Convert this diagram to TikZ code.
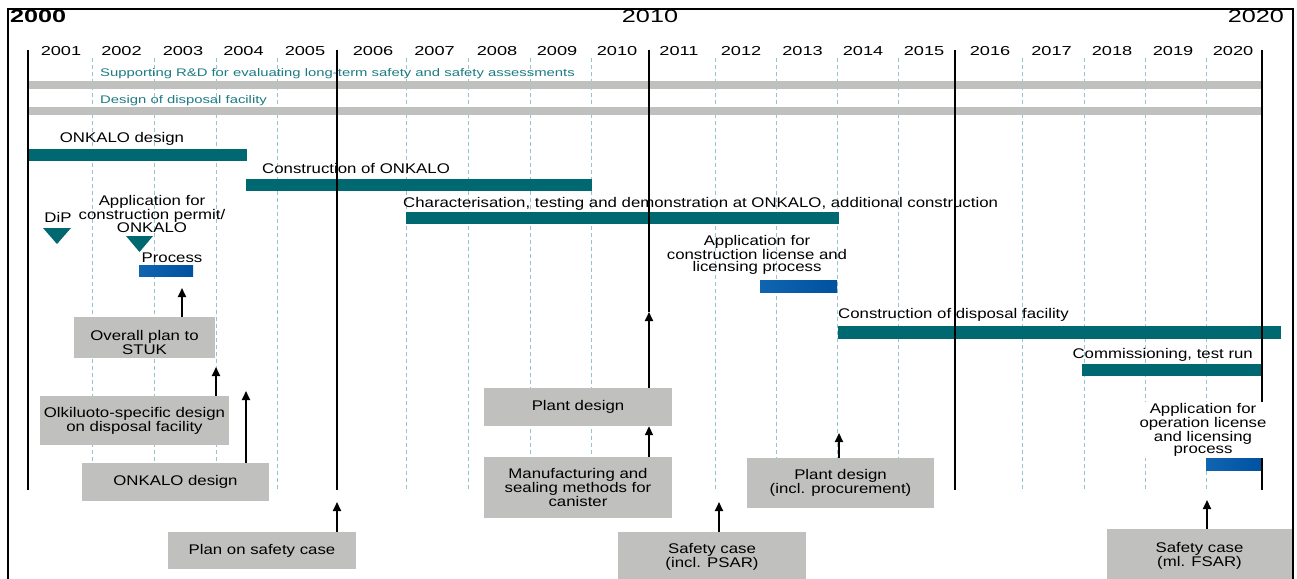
\documentclass[tikz,border=0pt]{standalone}
\usepackage{fontspec}
\setmainfont{Liberation Sans}
\newfontfamily\txtfont{Liberation Sans}[FakeStretch=1.2]
\newfontfamily\lblfont{Liberation Sans}[FakeStretch=1.35]
\newfontfamily\numfont{Liberation Sans}[FakeStretch=1.4]
\usetikzlibrary{arrows.meta}
\definecolor{barteal}{RGB}{0,104,112}
\definecolor{txteal}{RGB}{28,124,130}
\definecolor{boxgray}{RGB}{192,193,191}
\definecolor{dashblue}{RGB}{150,196,206}
\definecolor{blueL}{RGB}{16,100,176}
\definecolor{blueD}{RGB}{0,82,160}
\begin{document}
\begin{tikzpicture}[x=1pt,y=-1pt,
  txt/.style={inner sep=0pt, font=\txtfont\fontsize{14}{12.3}\selectfont, align=center},
  oneline/.style={text height=10pt, text depth=0pt},
  yearlbl/.style={inner sep=0pt, text height=9.5pt, text depth=0pt, font=\numfont\fontsize{13}{13}\selectfont},
  biglbl/.style={inner sep=0pt, text height=13pt, text depth=0pt, font=\numfont\fontsize{18}{18}\selectfont},
  teallbl/.style={inner sep=0pt, anchor=west, text=txteal, text height=8pt, text depth=0pt, font=\lblfont\fontsize{11}{11}\selectfont},
  graybar/.style={fill=boxgray, draw=none, inner sep=0pt, anchor=north west},
  tealbar/.style={fill=barteal, draw=none, inner sep=0pt, anchor=north west},
  bluebar/.style={left color=blueL, right color=blueD, draw=none, inner sep=0pt, anchor=north west},
  graybox/.style={fill=boxgray, draw=none, inner sep=0pt, align=center, font=\txtfont\fontsize{14}{12.3}\selectfont},
  arr/.style={line width=1.8pt, -{Triangle[width=8pt,length=9pt]}},
  yearline/.style={line width=1.8pt, black},
  gridline/.style={dashblue, line width=0.9pt, dash pattern=on 4pt off 3pt},
  frameline/.style={line width=2pt, black}
]
\useasboundingbox (0,0) rectangle (1297,578);
\fill[white] (0,0) rectangle (1297,578);

% frame (bottom edge outside the picture)
\draw[frameline] (8,600) -- (8,9) -- (1293,9) -- (1293,600);

% decade labels
\node[biglbl, anchor=west, font=\numfont\fontsize{18}{18}\selectfont\bfseries] (d2000) at (10,16.5) {2000};
\node[biglbl] (d2010) at (650,16.5) {2010};
\node[biglbl, anchor=east] (d2020) at (1284,16.5) {2020};

% year labels
\foreach \yr/\xx in {2001/61,2002/121.5,2003/183,2004/243.5,2005/305,2006/373,2007/434.5,2008/497,2009/557,2010/617,2011/679,2012/741,2013/802.5,2014/863,2015/924,2016/990,2017/1051.5,2018/1112,2019/1173,2020/1233}
  \node[yearlbl] (y\yr) at (\xx,51) {\yr};

% dashed year grid
\foreach \xx in {92,154,216,277,406,468,530,591,715,776,837,898,1022,1084,1145,1206}
  \draw[gridline] (\xx,58) -- (\xx,492);

% gray bars
\node[graybar, minimum width=1234pt, minimum height=8pt] (rdbar) at (28,81) {};
\node[graybar, minimum width=1234pt, minimum height=8pt] (dfbar) at (28,107) {};
\node[teallbl] (rdlbl) at (100,72) {Supporting R\&D for evaluating long-term safety and safety assessments};
\node[teallbl] (dflbl) at (100,99) {Design of disposal facility};

% teal bars
\node[tealbar, minimum width=219pt, minimum height=12pt] (onkbar) at (28,149) {};
\node[tealbar, minimum width=346pt, minimum height=12pt] (conkbar) at (246,179) {};
\node[tealbar, minimum width=433pt, minimum height=12pt] (charbar) at (406,212) {};
\node[tealbar, minimum width=443pt, minimum height=13pt] (cdfbar) at (838,326) {};
\node[tealbar, minimum width=180pt, minimum height=12pt] (combar) at (1082,364) {};

% blue bars
\node[bluebar, minimum width=54pt, minimum height=11pt] (procbar) at (139,265) {};
\node[bluebar, minimum width=77pt, minimum height=12pt] (clbar) at (760,280) {};
\node[bluebar, minimum width=56pt, minimum height=12pt] (olbar) at (1206,458) {};

% solid five-year lines
\foreach \xx in {28,337,955,1262}
  \draw[yearline] (\xx,50) -- (\xx,490);
\coordinate (tipE) at (649,312);
\draw[yearline] (649,50) -- (tipE);

% bar labels
\node[txt, oneline] (onklbl) at (122,137) {ONKALO design};
\node[txt, oneline, anchor=west] (conklbl) at (262,168) {Construction of ONKALO};
\node[txt, oneline, anchor=west] (charlbl) at (403,202) {Characterisation, testing and demonstration at ONKALO, additional construction};
\node[txt, oneline, anchor=west] (cdflbl) at (838,313) {Construction of disposal facility};
\node[txt, oneline, anchor=east] (comlbl) at (1253,353) {Commissioning, test run};

% milestones
\node[txt, oneline] (diplbl) at (58,217) {DiP};
\fill[barteal] (43,228) -- (71,228) -- (57,244) -- cycle;
\node[txt] (cplbl) at (152,214) {Application for\\construction permit/\\ONKALO};
\fill[barteal] (126,236) -- (153,236) -- (139.5,252) -- cycle;
\node[txt, oneline] (proclbl) at (172,257) {Process};
\node[txt] (cllbl) at (757,255) {Application for\\construction license and\\licensing process};
\node[txt, fill=white, inner sep=1pt] (ollbl) at (1203,430) {Application for\\operation license\\and licensing\\process};

% gray boxes
\node[graybox, minimum width=141pt, minimum height=41pt] (ovr) at (144.5,337.5) {\rule{0pt}{20pt}Overall plan to\\STUK};
\node[graybox, minimum width=189pt, minimum height=49pt] (olk) at (134.5,420.5) {Olkiluoto-specific design\\on disposal facility};
\node[graybox, minimum width=187pt, minimum height=38pt] (onkd) at (175.5,482) {ONKALO design};
\node[graybox, minimum width=188pt, minimum height=37pt] (psc) at (262,550.5) {Plan on safety case};
\node[graybox, minimum width=188pt, minimum height=38pt] (pd) at (578,407) {Plant design};
\node[graybox, minimum width=188pt, minimum height=61pt] (man) at (578,487.5) {Manufacturing and\\sealing methods for\\canister};
\node[graybox, minimum width=188pt, minimum height=50pt] (psar) at (712,557) {Safety case\\(incl. PSAR)};
\node[graybox, minimum width=187pt, minimum height=50pt] (pdp) at (840.5,483) {Plant design\\(incl. procurement)};
\node[graybox, minimum width=185pt, minimum height=53pt] (fsar) at (1199.5,555.5) {Safety case\\(ml. FSAR)};

% arrows
\coordinate (tipA) at (182,288);
\coordinate (tipB) at (216,367);
\coordinate (tipC) at (246,391);
\coordinate (tipD) at (337,502);
\coordinate (tipF) at (719,502);
\coordinate (tipG) at (839,433);
\coordinate (tipH) at (1207,500);
\draw[arr] (ovr.north -| tipA) -- (tipA);
\draw[arr] (olk.north -| tipB) -- (tipB);
\draw[arr] (onkd.north -| tipC) -- (tipC);
\draw[arr] (psc.north -| tipD) -- (tipD);
\draw[arr] (pd.north -| tipE) -- (tipE);
\draw[arr] (man.north -| tipE) -- (pd.south -| tipE);
\draw[arr] (psar.north -| tipF) -- (tipF);
\draw[arr] (pdp.north -| tipG) -- (tipG);
\draw[arr] (fsar.north -| tipH) -- (tipH);
\end{tikzpicture}
\end{document}
